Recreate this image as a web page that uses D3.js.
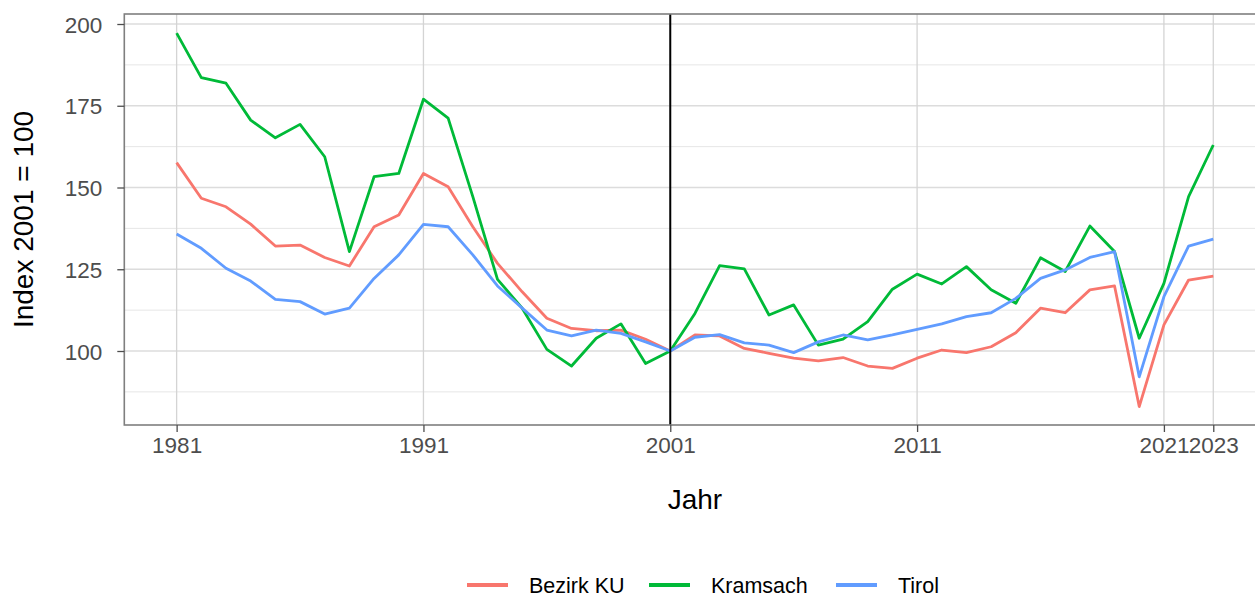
<!DOCTYPE html>
<html>
<head>
<meta charset="utf-8">
<script src="https://cdn.jsdelivr.net/npm/d3@7"></script>
<style>
  html, body { margin: 0; padding: 0; background: #fff; }
  svg { display: block; font-family: Arial, "Liberation Sans", sans-serif; }
</style>
</head>
<body>
<svg id="chart" width="1255" height="599"></svg>
<script>
const years = d3.range(1981, 2024);
const bezirkKU = [157.6,146.7,144.1,138.8,132.1,132.4,128.6,126.0,138.0,141.6,
  154.3,150.2,138.0,126.8,118.1,110.0,106.9,106.2,106.4,103.6,
  100.0,104.9,104.6,100.8,99.3,97.8,97.0,98.0,95.4,94.7,
  97.8,100.3,99.5,101.3,105.6,113.1,111.7,118.7,119.9,83.0,
  108.0,121.7,122.9];
const kramsach = [197.2,183.6,181.9,170.6,165.2,169.3,159.4,130.4,153.3,154.3,
  177.0,171.2,147.2,121.9,113.1,100.5,95.4,103.9,108.3,96.2,
  100.0,111.5,126.1,125.1,111.0,114.1,101.8,103.6,109.0,118.9,
  123.5,120.5,125.8,118.7,114.6,128.5,124.3,138.2,130.4,103.9,
  120.7,147.2,163.0];
const tirol = [135.8,131.4,125.3,121.4,115.8,115.1,111.3,113.1,122.2,129.4,
  138.7,138.0,129.4,119.9,113.1,106.4,104.6,106.4,105.4,102.8,
  100.0,104.2,105.0,102.5,101.8,99.5,102.8,104.9,103.4,104.9,
  106.6,108.3,110.5,111.7,116.1,122.2,124.8,128.6,130.4,92.1,
  116.6,132.1,134.2];
const seriesNames = ["Bezirk KU", "Kramsach", "Tirol"];
const seriesColors = ["#F8766D", "#00BA38", "#619CFF"];
const xTicks = [1981, 1991, 2001, 2011, 2021, 2023];
const yTicks = [100, 125, 150, 175, 200];
const yMinor = [87.5, 112.5, 137.5, 162.5, 187.5];
const refYear = 2001;

const svg = d3.select("#chart");
const L = 124.3, R = 1265.6, T = 14, B = 425;
const x = d3.scaleLinear().domain([1978.88, 2025.12]).range([L, R]);
const y = d3.scaleLinear().domain([77.37, 203.06]).range([B, T]);

svg.append("clipPath").attr("id", "clip")
  .append("rect").attr("x", L).attr("y", T).attr("width", R - L).attr("height", B - T);

const g = svg.append("g");
// minor grid
g.selectAll(".ymin").data(yMinor).enter().append("line")
  .attr("x1", L).attr("x2", R).attr("y1", d => y(d)).attr("y2", d => y(d))
  .attr("stroke", "#e6e6e6").attr("stroke-width", 1);
// major grid
g.selectAll(".ymaj").data(yTicks).enter().append("line")
  .attr("x1", L).attr("x2", R).attr("y1", d => y(d)).attr("y2", d => y(d))
  .attr("stroke", "#dcdcdc").attr("stroke-width", 1.3);
g.selectAll(".xmaj").data(xTicks).enter().append("line")
  .attr("y1", T).attr("y2", B).attr("x1", d => x(d)).attr("x2", d => x(d))
  .attr("stroke", "#d4d4d4").attr("stroke-width", 1.3);

// lines
const data = [bezirkKU, kramsach, tirol];
const line = d3.line().x((d, i) => x(years[i])).y(d => y(d));
const lg = g.append("g").attr("clip-path", "url(#clip)");
data.forEach((vals, k) => {
  lg.append("path").datum(vals).attr("d", line)
    .attr("fill", "none").attr("stroke", seriesColors[k])
    .attr("stroke-width", 2.8).attr("stroke-linejoin", "round");
});
// reference vertical line
g.append("line").attr("x1", x(refYear)).attr("x2", x(refYear)).attr("y1", T).attr("y2", B)
  .attr("stroke", "#000").attr("stroke-width", 2);

// panel border
g.append("rect").attr("x", L).attr("y", T).attr("width", R - L).attr("height", B - T)
  .attr("fill", "none").attr("stroke", "#7f7f7f").attr("stroke-width", 1.6);

// axes
const yAxis = d3.axisLeft(y).tickValues(yTicks).tickSize(7).tickPadding(15);
const ya = svg.append("g").attr("transform", `translate(${L},0)`).call(yAxis);
ya.select(".domain").remove();
ya.selectAll(".tick line").attr("stroke", "#4d4d4d").attr("stroke-width", 1.3);
ya.selectAll(".tick text").attr("fill", "#4d4d4d").attr("font-size", 22.5)
  .attr("font-family", "Arial, 'Liberation Sans', sans-serif").attr("dy", "0.36em");

const xAxis = d3.axisBottom(x).tickValues(xTicks).tickFormat(d3.format("d")).tickSize(7).tickPadding(5);
const xa = svg.append("g").attr("transform", `translate(0,${B})`).call(xAxis);
xa.select(".domain").remove();
xa.selectAll(".tick line").attr("stroke", "#4d4d4d").attr("stroke-width", 1.3);
xa.selectAll(".tick text").attr("fill", "#4d4d4d").attr("font-size", 22.5)
  .attr("font-family", "Arial, 'Liberation Sans', sans-serif").attr("dy", "0.71em");

// axis titles
svg.append("text").attr("x", (L + R) / 2).attr("y", 509).attr("text-anchor", "middle")
  .attr("font-size", 28).attr("fill", "#000").text("Jahr");
svg.append("text").attr("transform", `translate(33,${(T + B) / 2}) rotate(-90)`)
  .attr("text-anchor", "middle").attr("font-size", 28).attr("fill", "#000").text("Index 2001 = 100");

// legend
const legX = [467, 649, 836];
const leg = svg.append("g");
seriesNames.forEach((n, k) => {
  leg.append("line").attr("x1", legX[k]).attr("x2", legX[k] + 41).attr("y1", 585).attr("y2", 585)
    .attr("stroke", seriesColors[k]).attr("stroke-width", 4);
  leg.append("text").attr("x", legX[k] + 62).attr("y", 593).attr("font-size", 21.5)
    .attr("fill", "#000").text(n);
});
</script>
</body>
</html>
